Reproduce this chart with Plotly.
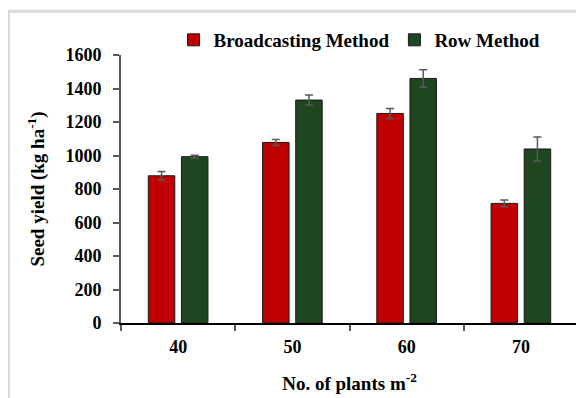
import plotly.graph_objects as go

categories = ["40", "50", "60", "70"]
broadcasting = [879, 1078, 1251, 714]
broadcasting_err = [26, 18, 30, 20]
row_method = [993, 1331, 1460, 1039]
row_err = [8, 30, 52, 72]
y_ticks = [0, 200, 400, 600, 800, 1000, 1200, 1400, 1600]

FONT = "Times New Roman"
bold = lambda s: "<b>" + str(s) + "</b>"

fig = go.Figure()
fig.add_trace(go.Bar(
    x=categories, y=broadcasting, name=bold("Broadcasting Method"),
    marker=dict(color="#C00000", line=dict(color="#1a1a1a", width=1)),
    error_y=dict(type="data", array=broadcasting_err, color="#595959", thickness=1.5, width=4),
))
fig.add_trace(go.Bar(
    x=categories, y=row_method, name=bold("Row Method"),
    marker=dict(color="#1E4620", line=dict(color="#1a1a1a", width=1)),
    error_y=dict(type="data", array=row_err, color="#595959", thickness=1.5, width=4),
))

fig.update_layout(
    width=576, height=390,
    margin=dict(l=113, r=6, t=47, b=75, autoexpand=False),
    paper_bgcolor="white", plot_bgcolor="white",
    barmode="group", bargap=0.42, bargroupgap=0.2,
    font=dict(family=FONT, size=18, color="black"),
    showlegend=True,
    legend=dict(orientation="h", x=0.115, xanchor="left", y=1.056, yanchor="middle",
                font=dict(family=FONT, size=19, color="black"), itemwidth=30,
                traceorder="normal", bgcolor="rgba(0,0,0,0)"),
    xaxis=dict(type="category", showline=True, linecolor="black", linewidth=1.5,
               ticks="outside", ticklen=6, tickcolor="#595959", tickwidth=1.5,
               tickson="boundaries", showgrid=False, ticklabelstandoff=7, automargin=False,
               tickvals=categories, ticktext=[bold(c) for c in categories],
               tickfont=dict(family=FONT, size=18, color="black"),
               title=dict(text=bold("No. of plants m<sup>-2</sup>"), standoff=20,
                          font=dict(family=FONT, size=19, color="black"))),
    yaxis=dict(range=[0, 1600], tickvals=y_ticks, ticktext=[bold(v) for v in y_ticks],
               showline=True, linecolor="#595959",
               linewidth=2, ticks="outside", ticklen=6, tickcolor="#595959", tickwidth=1.5,
               showgrid=False, zeroline=False, ticklabelstandoff=8, automargin=False,
               tickfont=dict(family=FONT, size=18, color="black"),
               title=dict(text=bold("Seed yield (kg ha<sup>-1</sup>)"), standoff=16,
                          font=dict(family=FONT, size=19, color="black"))),
    yaxis2=dict(range=[0, 1600], tickvals=y_ticks, overlaying="y", side="left",
                showline=False, ticks="inside", ticklen=6, tickcolor="#595959",
                tickwidth=1.5, showticklabels=False, showgrid=False, zeroline=False,
                automargin=False),
    shapes=[
        dict(type="rect", xref="paper", yref="paper", x0=-0.246, x1=1.5,
             y0=-1.0, y1=1.1634, line=dict(color="#d9d9d9", width=3),
             fillcolor="rgba(0,0,0,0)", layer="above"),
    ],
)

fig.write_html("out.html")
